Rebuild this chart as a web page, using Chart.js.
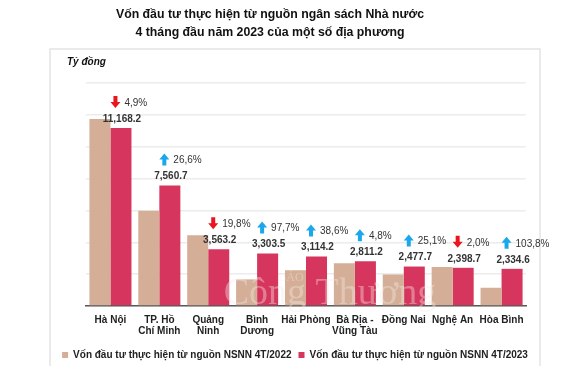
<!DOCTYPE html>
<html>
<head>
<meta charset="utf-8">
<script src="https://cdn.jsdelivr.net/npm/chart.js@4"></script>
<style>
  html, body { margin: 0; padding: 0; background: #fff; }
  #wrap { width: 570px; height: 366px; }
</style>
</head>
<body>
<div id="wrap"><canvas id="vonChart"></canvas></div>
<script>
// du lieu doc tu hinh
const categories = ['Hà Nội', ['TP. Hồ', 'Chí Minh'], ['Quảng', 'Ninh'], ['Bình', 'Dương'], 'Hải Phòng',
    ['Bà Rịa -', 'Vũng Tàu'], 'Đồng Nai', 'Nghệ An', 'Hòa Bình'];
const von2022 = [11745, 5972, 4443, 1671, 2247, 2682, 1981, 2448, 1146];
const von2023 = [11168.2, 7560.7, 3563.2, 3303.5, 3114.2, 2811.2, 2477.7, 2398.7, 2334.6];
const valueLabels = ['11,168.2', '7,560.7', '3,563.2', '3,303.5', '3,114.2', '2,811.2', '2,477.7', '2,398.7', '2,334.6'];
const changeLabels = ['4,9%', '26,6%', '19,8%', '97,7%', '38,6%', '4,8%', '25,1%', '2,0%', '103,8%'];
const changeUp = [false, true, false, true, true, true, true, false, true];
const seriesNames = ['Vốn đầu tư thực hiện từ nguồn NSNN 4T/2022', 'Vốn đầu tư thực hiện từ nguồn NSNN 4T/2023'];

const FONT = 'Arial, "Liberation Sans", sans-serif';

function drawArrow(ctx, x, y, up, color) {
    // mui ten khoi nho
    ctx.save();
    ctx.fillStyle = color;
    ctx.beginPath();
    const s = up ? -1 : 1;
    ctx.moveTo(x - 2, y - 6 * s);
    ctx.lineTo(x + 2, y - 6 * s);
    ctx.lineTo(x + 2, y);
    ctx.lineTo(x + 5, y);
    ctx.lineTo(x, y + 6 * s);
    ctx.lineTo(x - 5, y);
    ctx.lineTo(x - 2, y);
    ctx.closePath();
    ctx.fill();
    ctx.restore();
}

const decorPlugin = {
    id: 'decor',
    beforeDraw(chart) {
        const ctx = chart.ctx;
        ctx.save();
        ctx.strokeStyle = '#e4e4e4';
        ctx.lineWidth = 1.5;
        ctx.strokeRect(50, 49, 490, 330);
        ctx.fillStyle = '#111';
        ctx.textAlign = 'center';
        ctx.textBaseline = 'middle';
        ctx.font = 'bold 12.3px ' + FONT;
        ctx.fillText('Vốn đầu tư thực hiện từ nguồn ngân sách Nhà nước', 270, 15);
        ctx.fillText('4 tháng đầu năm 2023 của một số địa phương', 270, 33);
        ctx.textAlign = 'left';
        ctx.font = 'italic bold 10px ' + FONT;
        ctx.fillText('Tỷ đồng', 67, 62);
        ctx.restore();
    },
    afterDatasetsDraw(chart) {
        const ctx = chart.ctx;
        const meta = chart.getDatasetMeta(1);
        ctx.save();
        // watermark
        ctx.fillStyle = 'rgba(242,236,230,0.4)';
        ctx.textAlign = 'center';
        ctx.textBaseline = 'middle';
        ctx.font = '12px "Liberation Serif", serif';
        ctx.fillText('BÁO', 291, 278);
        ctx.font = '38px "Liberation Serif", serif';
        ctx.fillText('Công Thương', 330, 294);

        meta.data.forEach((bar, i) => {
            const vy = bar.y - 9;
            ctx.fillStyle = '#333';
            ctx.font = 'bold 10px ' + FONT;
            ctx.textAlign = 'center';
            ctx.fillText(valueLabels[i], bar.x + 1, vy);
            const cx = chart.scales.x.getPixelForValue(i);
            const py = vy - 17;
            drawArrow(ctx, cx + 5, py, changeUp[i], changeUp[i] ? '#1ba7ec' : '#e8161e');
            ctx.fillStyle = '#333';
            ctx.font = '10px ' + FONT;
            ctx.textAlign = 'left';
            ctx.fillText(changeLabels[i], cx + 14, py + 1);
        });
        ctx.restore();
    }
};

const ctx = document.getElementById('vonChart').getContext('2d');
new Chart(ctx, {
    type: 'bar',
    data: {
        labels: categories,
        datasets: [{
            label: seriesNames[0],
            data: von2022,
            backgroundColor: '#d4ae96',
            barPercentage: 1,
            categoryPercentage: 0.86
        }, {
            label: seriesNames[1],
            data: von2023,
            backgroundColor: '#d6365d',
            barPercentage: 1,
            categoryPercentage: 0.86
        }]
    },
    options: {
        responsive: true,
        maintainAspectRatio: false,
        animation: false,
        layout: {
            padding: { top: 83, left: 40, right: 20, bottom: -4 }
        },
        scales: {
            y: {
                min: 0,
                max: 14000,
                ticks: { display: false, stepSize: 2000 },
                grid: { color: '#ececec', lineWidth: 1.5, drawTicks: false },
                border: { display: false },
                afterFit(s) { s.width = 46; }
            },
            yRight: {
                position: 'right',
                min: 0,
                max: 14000,
                ticks: { display: false },
                grid: { display: false, drawTicks: false },
                border: { display: false },
                afterFit(s) { s.width = 24; }
            },
            x: {
                grid: { display: false, drawTicks: false },
                border: { color: '#595959', width: 1.5 },
                ticks: {
                    color: '#222',
                    padding: 8,
                    maxRotation: 0,
                    autoSkip: false,
                    font: { family: FONT, size: 10, weight: 'bold', lineHeight: 1.15 }
                },
                afterFit(s) { s.height = 37; }
            }
        },
        plugins: {
            legend: {
                position: 'bottom',
                labels: {
                    color: '#222',
                    boxWidth: 6,
                    boxHeight: 6,
                    padding: 7,
                    font: { family: FONT, size: 10, weight: 'bold' }
                }
            },
            tooltip: { enabled: false }
        }
    },
    plugins: [decorPlugin]
});
</script>
</body>
</html>
